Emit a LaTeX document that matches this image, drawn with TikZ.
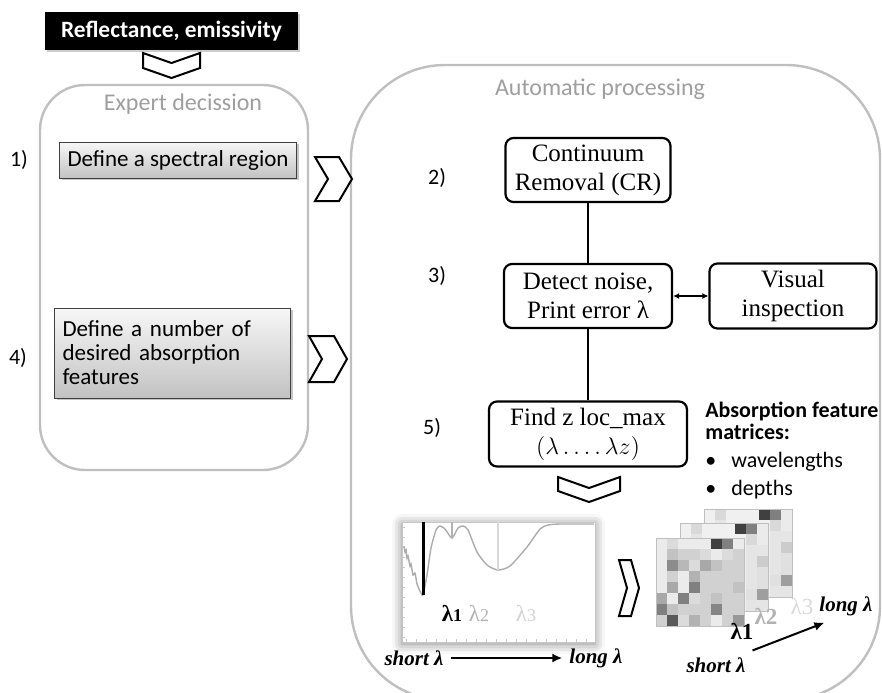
\documentclass[tikz,border=0pt]{standalone}
\usepackage{fontspec}
\setmainfont{Liberation Serif}
\setsansfont{Carlito}
\usetikzlibrary{arrows.meta,positioning,shadows,shadows.blur}

\begin{document}
\begin{tikzpicture}[
  x=0.5pt, y=-0.5pt,
  panel/.style={draw=black!25, line width=1.2pt},
  paneltitle/.style={font=\sffamily\fontsize{12}{14}\selectfont, text=black!38},
  numlabel/.style={font=\sffamily\fontsize{11}{13}\selectfont},
  stepbox/.style={draw, line width=1.1pt, rounded corners=4pt, align=center, inner sep=2pt, font=\fontsize{12.5}{14.5}\selectfont},
  userbox/.style={draw=black!75, line width=0.5pt, top color=gray!6, bottom color=gray!48, align=left, inner sep=4pt,
    font=\sffamily\fontsize{11.5}{12}\selectfont, drop shadow={shadow xshift=1.2pt, shadow yshift=-1.2pt, fill=black!45}},
  chev/.style={draw, fill=white, line width=1pt, line join=miter},
  lamlab/.style={font=\bfseries\itshape\fontsize{10.5}{12}\selectfont},
  link/.style={line width=0.8pt},
  biarrow/.style={{Latex[length=3pt,width=3pt]}-{Latex[length=3pt,width=3pt]}, line width=0.6pt},
  axisarrow/.style={-{Latex[length=5pt,width=4.5pt]}, line width=1pt},
  pics/chevright/.style n args={3}{code={
    \draw[chev] (0,0) -- ({#1-#3},0) -- (#1,{#2/2}) -- ({#1-#3},#2) -- (0,#2) -- (#3,{#2/2}) -- cycle;}},
  pics/chevdown/.style n args={3}{code={
    \draw[chev] (0,0) -- ({#1/2},#3) -- (#1,0) -- (#1,{#2-#3}) -- ({#1/2},#2) -- (0,{#2-#3}) -- cycle;}},
]
\useasboundingbox (0,0) rectangle (882,692);

% ===== Panels =====
\draw[panel, rounded corners=22.5pt] (40,85) rectangle (308,470);
\draw[panel, rounded corners=47pt] (351,65) rectangle (880,700);
\node[paneltitle] (exptitle) at (183,104) {Expert decission};
\node[paneltitle] (autotitle) at (600,89) {Automatic processing};

% ===== Input =====
\node[fill=black, text=white, font=\sffamily\bfseries\fontsize{11.7}{13}\selectfont, minimum width=126.5pt, minimum height=19pt,
      drop shadow={shadow xshift=1.2pt, shadow yshift=-1.2pt, fill=black!40}] (input) at (171.5,31) {Reflectance, emissivity};
\pic at (143,53) {chevdown={57}{25}{10}};

% ===== Expert decision steps =====
\node[numlabel] (n1) at (19,160) {1)};
\node[userbox, minimum width=118pt, minimum height=18pt, anchor=west] (region) at (59,160) {Define a spectral region};
\pic at (315,157) {chevright={37}{44}{13}};

\node[numlabel] (n4) at (18,358) {4)};
\node[userbox, text width=110pt, minimum height=45pt, anchor=west] (nfeat) at (54,353)
  {Define a number of\\desired absorption\\features};
\pic at (309,336) {chevright={38}{46}{13}};

% ===== Automatic processing steps =====
\node[numlabel] (n2) at (437,178) {2)};
\node[stepbox, minimum width=82.5pt, minimum height=32pt] (cr) at (588,170) {Continuum\\Removal (CR)};
\node[numlabel] (n3) at (437,276) {3)};
\node[stepbox, minimum width=84pt, minimum height=32pt] (detect) at (588,296) {Detect noise,\\Print error λ};
\node[stepbox, minimum width=83.5pt, minimum height=32.5pt] (visual) at (793,296) {Visual\\inspection};
\node[numlabel] (n5) at (432,428) {5)};
\node[stepbox, minimum width=99pt, minimum height=32.5pt] (findmax) at (588,434) {Find z loc\_max\\$(\lambda\ldots.\,\lambda z)$};

\draw[link] (cr) -- (detect);
\draw[link] (detect) -- (findmax);
\draw[biarrow] (detect) -- (visual);

\node[font=\sffamily\fontsize{11}{11}\selectfont, align=left, anchor=north west, inner sep=0pt] (matlegend) at (705,402)
  {\textbf{Absorption feature}\\\textbf{matrices:}\\[3pt]\makebox[13pt][l]{\textbullet}wavelengths\\[3pt]\makebox[13pt][l]{\textbullet}depths};

\pic at (558,477) {chevdown={62}{25}{11}};

% ===== Spectrum with absorption minima =====
\node[draw=gray!45, line width=0.4pt, fill=white, minimum width=96.5pt, minimum height=60pt, inner sep=0pt,
      blur shadow={shadow xshift=0pt, shadow yshift=-1pt, shadow blur radius=5pt, shadow opacity=50}] (spec) at (498.5,582) {};
\foreach \t in {0,...,11} \draw[gray!45, line width=0.3pt] (402,{527+\t*10}) -- ++(3,0);
\foreach \t in {0,...,18} \draw[gray!45, line width=0.3pt] ({406+\t*10},642) -- ++(0,-3);
\draw[gray!65, line width=0.7pt] plot[smooth, tension=0.4] coordinates {(404,546) (405,552) (406,550) (407,558) (408,556)
  (410,566) (411,564) (413,575) (415,573) (417,584) (420,591) (423,595) (427,575) (431,548) (436,530) (440,526) (445,529)
  (452,538) (458,528) (463,526) (468,530) (477,552) (487,565) (498,570) (510,566) (527,547) (540,529) (548,525) (560,524) (594,524)};
\draw[line width=1.5pt] (423,522) -- (423,595);
\draw[gray!60, line width=1.3pt] (452,522) -- (452,538);
\draw[gray!30, line width=1.3pt] (498,522) -- (498,570);

\node[font=\bfseries\fontsize{11.5}{12}\selectfont] (lam1) at (452,613) {λ{\fontsize{9}{9}\selectfont 1}};
\node[font=\fontsize{11.5}{12}\selectfont, text=gray!60] (lam2) at (479,613) {λ{\fontsize{9}{9}\selectfont 2}};
\node[font=\fontsize{11.5}{12}\selectfont, text=gray!35] (lam3) at (526,613) {λ{\fontsize{9}{9}\selectfont 3}};

\node[lamlab] (shortA) at (414,658) {short λ};
\node[lamlab] (longA) at (596,658) {long λ};
\draw[axisarrow] (shortA) -- (longA);

\pic at (619,560) {chevright={20}{56}{8}};

% ===== Feature matrices (back to front) =====
\foreach \mx/\my in {704/509, 680/523} {
  \fill[white] (\mx,\my) rectangle ++(88,88);
  \foreach \row [count=\r from 0] in {{6,15,6,6,6,75,50,8},{6,10,6,6,6,6,15,8},{6,6,6,6,6,6,10,10},{6,6,6,6,6,6,10,20},
                                      {6,6,6,6,6,6,10,12},{6,6,6,6,6,6,10,12},{6,6,6,6,6,6,12,38},{6,6,6,6,6,6,10,10}}
    \foreach \v [count=\c from 0] in \row
      \fill[black!\v] ({\mx+\c*11},{\my+\r*11}) rectangle ++(11,11);
  \draw[gray!50, line width=0.4pt] (\mx,\my) rectangle ++(88,88);
}
\fill[white] (656,538) rectangle ++(88,88);
\foreach \row [count=\r from 0] in {{8,14,8,8,8,75,50,8},{8,24,18,18,14,8,14,18},{8,45,28,14,34,24,18,18},{8,18,8,30,18,18,18,18},
                                    {8,34,8,50,18,18,18,24},{34,8,50,14,18,24,18,18},{50,24,18,18,18,48,18,18},{18,65,14,30,18,8,18,40}}
  \foreach \v [count=\c from 0] in \row
    \fill[black!\v] ({656+\c*11},{538+\r*11}) rectangle ++(11,11);
\draw[gray!50, line width=0.4pt] (656,538) rectangle ++(88,88);

\node[font=\bfseries\fontsize{11.5}{12}\selectfont] (mlam1) at (742,631) {λ1};
\node[font=\bfseries\fontsize{11.5}{12}\selectfont, text=gray!60] (mlam2) at (766,616) {λ2};
\node[font=\fontsize{11.5}{12}\selectfont, text=gray!30] (mlam3) at (802,606) {λ3};
\node[lamlab] (longB) at (846,606) {long λ};
\node[lamlab] (shortB) at (716,665) {short λ};
\draw[axisarrow] (shortB.north east) -- ([xshift=6pt]longB.south west);

\end{tikzpicture}
\end{document}
